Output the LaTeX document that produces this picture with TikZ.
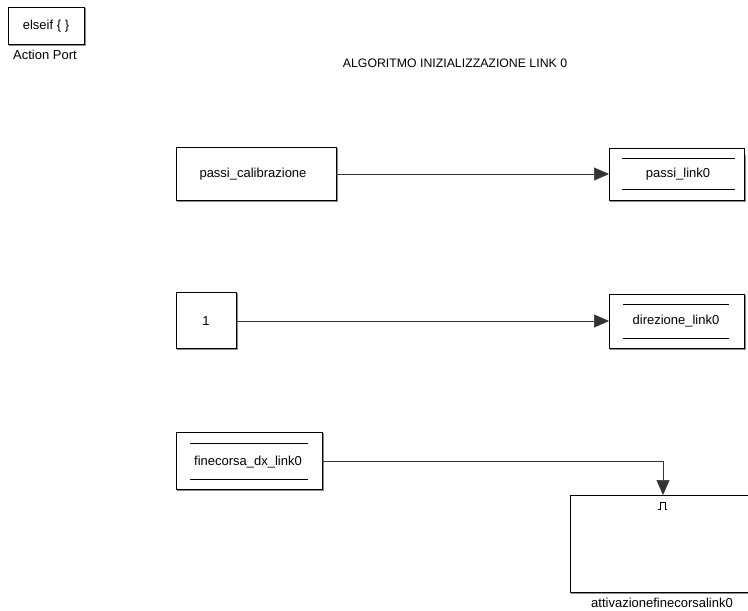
\documentclass[tikz,border=0pt]{standalone}
\usepackage{fontspec}
\setmainfont{Liberation Sans}
\usetikzlibrary{arrows.meta}
\begin{document}
\begin{tikzpicture}[x=1pt,y=-1pt,
  every node/.style={font=\fontsize{13}{15}\selectfont, inner sep=0pt},
  blk/.style={draw=black, line width=0.8pt, fill=white},
  shade/.style={draw=black!45, line width=1.2pt},
  sig/.style={draw=black!80, line width=0.7pt, -{Triangle[length=15pt,width=13pt]}},
  bar/.style={draw=black, line width=0.7pt}]
\useasboundingbox (0,0) rectangle (748,611);
\clip (0,0) rectangle (748,611);

% action port block
\draw[shade] (9,45) -- (85,45) -- (85,8);
\draw[blk] (8,7) rectangle (84,44);
\node (act) at (46,26) {elseif \{ \}};
\node (actlbl) at (45,55) {Action Port};

\node[font=\fontsize{12.3}{14}\selectfont] (title) at (455,63) {ALGORITMO INIZIALIZZAZIONE LINK 0};

% constant: passi_calibrazione
\draw[shade] (177,201) -- (337,201) -- (337,148);
\draw[blk] (176,147) rectangle (336,200);
\node (pc) at (253,174) {passi\_calibrazione};
\coordinate (pcout) at (336,174);

% data store write: passi_link0
\draw[shade] (610,201) -- (745,201) -- (745,155);
\draw[blk] (609,148) rectangle (744,200);
\draw[bar] (622,158) -- (735,158);
\draw[bar] (622,189) -- (735,189);
\node (pl) at (678,174) {passi\_link0};
\coordinate (plin) at (609,174);

% constant: 1
\draw[shade] (177,349) -- (237,349) -- (237,293);
\draw[blk] (176,292) rectangle (236,348);
\node (one) at (206,321) {1};
\coordinate (oneout) at (236,321);

% data store write: direzione_link0
\draw[shade] (610,349) -- (745,349) -- (745,295);
\draw[blk] (609,294) rectangle (744,348);
\draw[bar] (623,304) -- (729,304);
\draw[bar] (623,338) -- (729,338);
\node (dl) at (676,321) {direzione\_link0};
\coordinate (dlin) at (609,321);

% data store read: finecorsa_dx_link0
\draw[shade] (177,490) -- (323,490) -- (323,433);
\draw[blk] (176,432) rectangle (322,489);
\draw[bar] (190,443) -- (308,443);
\draw[bar] (190,479) -- (308,479);
\node (fc) at (248,462) {finecorsa\_dx\_link0};
\coordinate (fcout) at (322,461);

% triggered subsystem
\draw[shade] (571,593) -- (760,593);
\draw[blk] (570,495) rectangle (760,592);
\draw[line width=0.7pt] (658,509) -- (660,509) -- (660,502) -- (665,502) -- (665,509) -- (667,509);
\coordinate (trig) at (663,495);
\node (sublbl) at (662,603) {attivazionefinecorsalink0};

% signal lines
\draw[sig] (pcout) -- (plin);
\draw[sig] (oneout) -- (dlin);
\draw[sig] (fcout) -| (trig);
\end{tikzpicture}
\end{document}
